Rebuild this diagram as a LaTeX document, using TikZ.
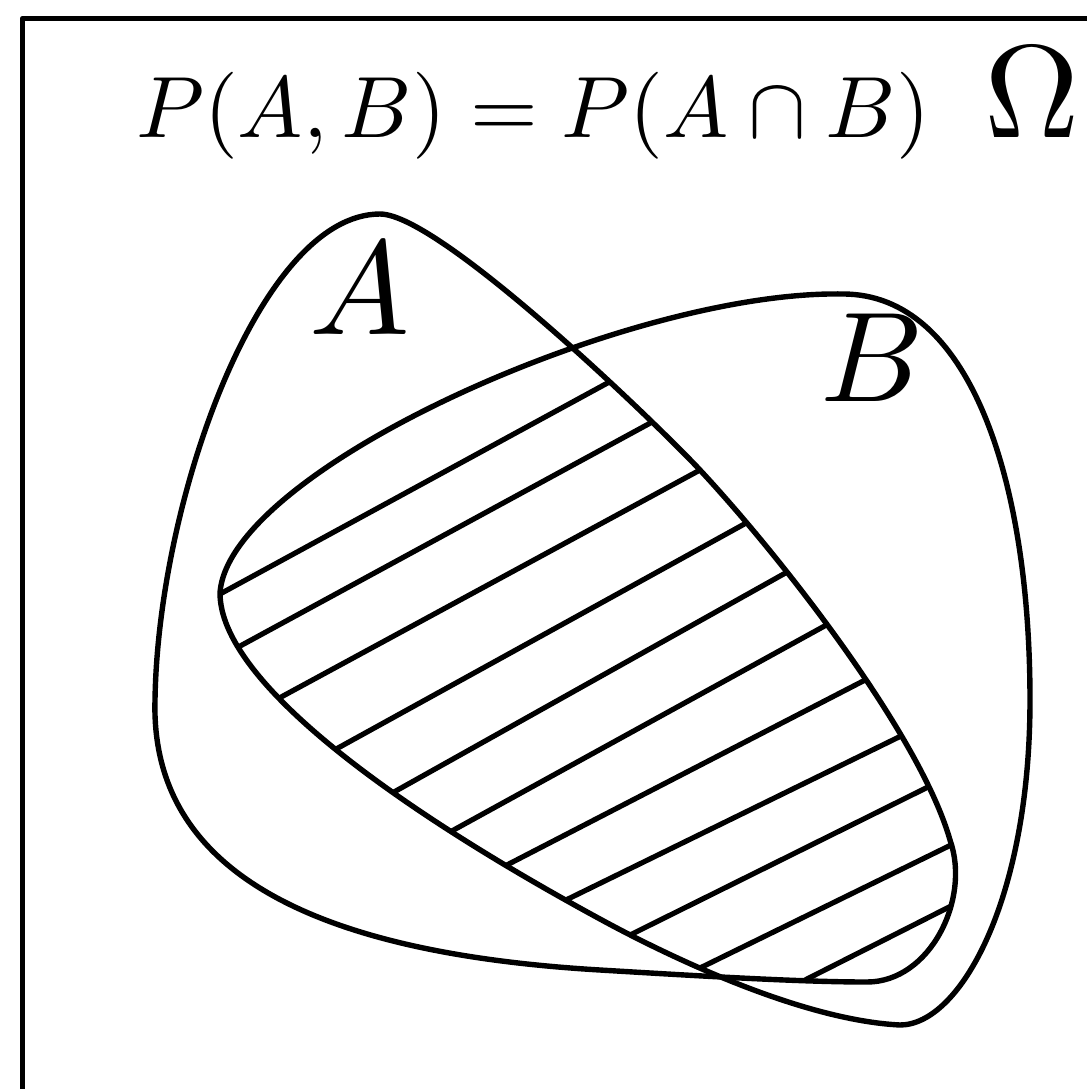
\documentclass[tikz,border=0pt]{standalone}
\usetikzlibrary{calc}
\begin{document}
\begin{tikzpicture}[x=0.5pt,y=-0.5pt,line join=round,
  curve/.style={line width=2.7pt},
  hatch/.style={line width=2.6pt},
  frame/.style={line width=2.8pt},
  lbl/.style={inner sep=0pt}]
\useasboundingbox (0,0) rectangle (1087,1089);
\clip (0,0) rectangle (1087,1089);
% frame (partly outside the picture)
\draw[frame] (22.5,1200) -- (22.5,18.5) -- (1200,18.5);
% texts
\node[lbl,scale=4.35,anchor=base] (formula) at (533,137) {$P(A,B)=P(A\cap B)$};
\node[lbl,scale=6.6] (omega) at (1032,92) {$\Omega$};
\node[lbl,scale=6.7] (labA) at (360,289) {$A$};
\node[lbl,scale=6.4] (labB) at (872,358) {$B$};
% hatching of the intersection, clipped to A and B
\begin{scope}
\clip (380,214)
  .. controls (440,214) and (659,426) .. (700,470)
  .. controls (782,558) and (920,735) .. (950,840)
  .. controls (971,899) and (930,982) .. (867,982)
  .. controls (800,982) and (700,976) .. (600,970)
  .. controls (330,954) and (150,880) .. (155,700)
  .. controls (158,500) and (260,214) .. cycle;
\clip (843,294)
  .. controls (970,294) and (1030,480) .. (1030,700)
  .. controls (1030,900) and (960,1025) .. (900,1025)
  .. controls (800,1020) and (666,955) .. (600,919)
  .. controls (390,805) and (220,680) .. (220,593)
  .. controls (228,470) and (630,290) .. cycle;
\foreach \ax/\ay/\bx/\by in {
 220/594/613/380, 242/645/654/421, 283/696/700/470, 338/748/748/522,
 394/792/789/571, 450/832/830/623, 503/867/869/678, 568/899/901/736,
 626/937/928/787, 702/967/951/845, 809/978/957/903}
 \draw[hatch] ($(\ax,\ay)!-12pt!(\bx,\by)$) -- ($(\bx,\by)!-12pt!(\ax,\ay)$);
\end{scope}
% set A
\draw[curve] (380,214)
  .. controls (440,214) and (659,426) .. (700,470)
  .. controls (782,558) and (920,735) .. (950,840)
  .. controls (971,899) and (930,982) .. (867,982)
  .. controls (800,982) and (700,976) .. (600,970)
  .. controls (330,954) and (150,880) .. (155,700)
  .. controls (158,500) and (260,214) .. cycle;
% set B
\draw[curve] (843,294)
  .. controls (970,294) and (1030,480) .. (1030,700)
  .. controls (1030,900) and (960,1025) .. (900,1025)
  .. controls (800,1020) and (666,955) .. (600,919)
  .. controls (390,805) and (220,680) .. (220,593)
  .. controls (228,470) and (630,290) .. cycle;
\end{tikzpicture}
\end{document}
